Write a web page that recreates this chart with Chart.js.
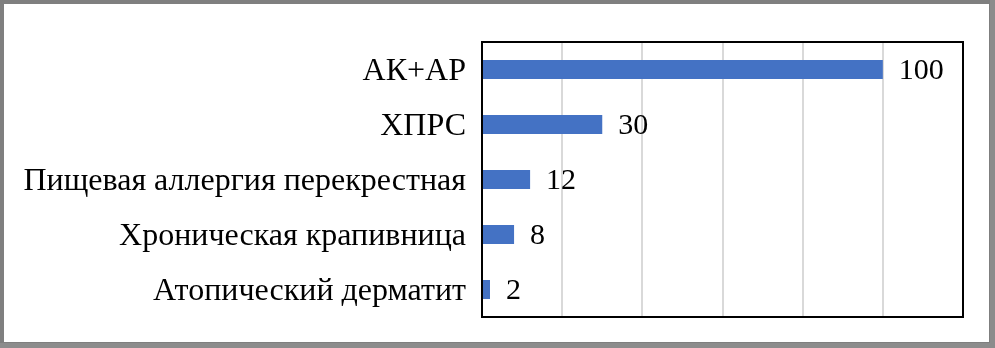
<!DOCTYPE html>
<html>
<head>
<meta charset="utf-8">
<script src="https://cdn.jsdelivr.net/npm/chart.js@4.4.1/dist/chart.umd.min.js"></script>
<style>
html,body{margin:0;padding:0;background:#fff;}
#wrap{width:995px;height:348px;position:relative;}
</style>
</head>
<body>
<div id="wrap"><canvas id="c" width="995" height="348"></canvas></div>
<script>
const categories = ["АК+АР", "ХПРС", "Пищевая аллергия перекрестная", "Хроническая крапивница", "Атопический дерматит"];
const values = [100, 30, 12, 8, 2];
const xTicks = [0, 20, 40, 60, 80, 100, 120];

const FONT = "'Liberation Serif', 'Times New Roman', serif";

const framePlugin = {
  id: 'frame',
  beforeDraw(chart) {
    const ctx = chart.ctx;
    ctx.save();
    ctx.fillStyle = '#fff';
    ctx.fillRect(0, 0, chart.width, chart.height);
    ctx.restore();
  },
  afterDatasetsDraw(chart) {
    const ctx = chart.ctx;
    const a = chart.chartArea;
    const meta = chart.getDatasetMeta(0);
    ctx.save();
    ctx.fillStyle = '#000';
    ctx.font = "30px " + FONT;
    ctx.textBaseline = 'middle';
    ctx.textAlign = 'left';
    meta.data.forEach((bar, i) => {
      ctx.fillText(String(values[i]), bar.x + 16, bar.y + 2);
    });
    // plot border
    ctx.strokeStyle = '#000';
    ctx.lineWidth = 2;
    ctx.strokeRect(a.left, a.top, a.right - a.left, a.bottom - a.top);
    // outer frame
    ctx.strokeStyle = '#7f7f7f';
    ctx.lineWidth = 4;
    ctx.strokeRect(2, 2, chart.width - 6, chart.height - 6);
    ctx.fillStyle = '#8c8c8c';
    ctx.fillRect(chart.width - 5, 0, 5, chart.height);
    ctx.fillRect(0, chart.height - 5, chart.width, 5);
    ctx.restore();
  }
};

new Chart(document.getElementById('c'), {
  type: 'bar',
  data: {
    labels: categories,
    datasets: [{
      data: values,
      backgroundColor: '#4472c4',
      barPercentage: 0.69,
      categoryPercentage: 0.5
    }]
  },
  options: {
    indexAxis: 'y',
    responsive: false,
    animation: false,
    events: [],
    layout: { padding: { left: 0, top: 42, right: 32, bottom: 31 } },
    plugins: { legend: { display: false }, tooltip: { enabled: false } },
    scales: {
      x: {
        min: xTicks[0],
        max: xTicks[xTicks.length - 1],
        afterBuildTicks(scale) { scale.ticks = xTicks.map(v => ({ value: v })); },
        ticks: { display: false },
        grid: { color: '#d9d9d9', lineWidth: 2, drawTicks: false },
        border: { display: false },
        afterFit(scale) { scale.height = 0; scale.paddingLeft = 0; scale.paddingRight = 0; }
      },
      y: {
        ticks: { color: '#000', font: { family: FONT, size: 32 }, padding: 16, labelOffset: 2 },
        grid: { display: false, drawTicks: false },
        border: { display: false },
        afterFit(scale) { scale.width = 482; scale.paddingTop = 0; scale.paddingBottom = 0; }
      }
    }
  },
  plugins: [framePlugin]
});
</script>
</body>
</html>
